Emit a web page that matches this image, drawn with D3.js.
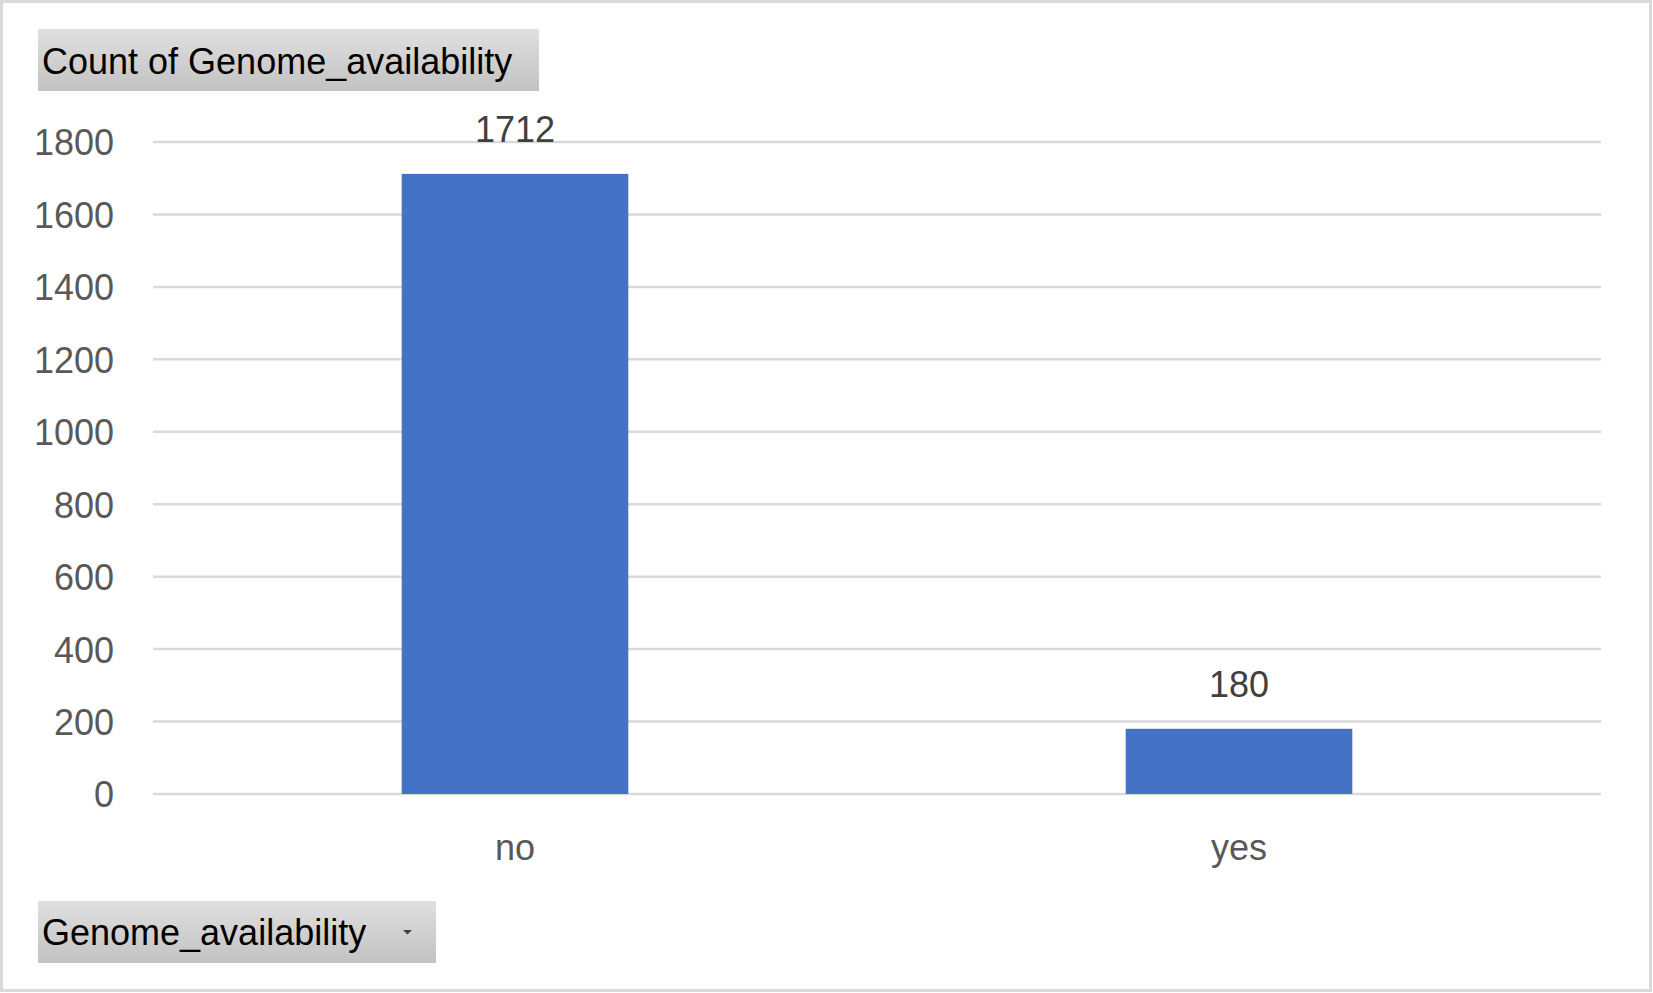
<!DOCTYPE html>
<html>
<head>
<meta charset="utf-8">
<script src="https://cdn.jsdelivr.net/npm/d3@7"></script>
<style>
  html, body { margin: 0; padding: 0; background: #fff; }
  svg { display: block; font-family: "Liberation Sans", Arial, sans-serif; }
</style>
</head>
<body>
<div id="chart"></div>
<script>
const categories = ['no', 'yes'];
const counts = [1712, 180];
const yTicks = [0, 200, 400, 600, 800, 1000, 1200, 1400, 1600, 1800];
const titleText = 'Count of Genome_availability';
const fieldText = 'Genome_availability';

const W = 1653, H = 993;
const plot = { left: 153, right: 1601, top: 142, bottom: 794 };

const svg = d3.select('#chart').append('svg')
  .attr('width', W).attr('height', H);

const defs = svg.append('defs');
const grad = defs.append('linearGradient').attr('id', 'btn').attr('x1', 0).attr('y1', 0).attr('x2', 0).attr('y2', 1);
grad.append('stop').attr('offset', '0%').attr('stop-color', '#e0e0e0');
grad.append('stop').attr('offset', '100%').attr('stop-color', '#c2c2c2');

// outer frame
svg.append('rect').attr('x', 1.5).attr('y', 1.5).attr('width', W - 4).attr('height', H - 4)
  .attr('fill', '#fff').attr('stroke', '#d9d9d9').attr('stroke-width', 3);

const x = d3.scaleBand().domain(categories).range([plot.left, plot.right])
  .paddingInner(0.687).paddingOuter(0.3435);
const y = d3.scaleLinear().domain([0, 1800]).range([plot.bottom, plot.top]);

// gridlines
svg.append('g').selectAll('line').data(yTicks).join('line')
  .attr('x1', plot.left).attr('x2', plot.right)
  .attr('y1', (d) => y(d)).attr('y2', (d) => y(d))
  .attr('stroke', '#d9d9d9').attr('stroke-width', 2.5);

// y axis labels
const yAxis = svg.append('g').attr('transform', `translate(${plot.left},0)`)
  .call(d3.axisLeft(y).tickValues(yTicks).tickSize(0).tickPadding(39).tickFormat(d3.format('d')));
yAxis.select('.domain').remove();
yAxis.selectAll('text').attr('fill', '#595959').attr('font-size', 36)
  .attr('font-family', '"Liberation Sans", Arial, sans-serif').attr('dy', '0.36em');

// bars
svg.append('g').selectAll('rect').data(counts).join('rect')
  .attr('x', (_, i) => x(categories[i])).attr('width', x.bandwidth())
  .attr('y', (d) => y(d)).attr('height', (d) => y(0) - y(d))
  .attr('fill', '#4472c4');

// value labels
svg.append('g').selectAll('text').data(counts).join('text')
  .attr('x', (_, i) => x(categories[i]) + x.bandwidth() / 2)
  .attr('y', (d) => y(d) - 32)
  .attr('text-anchor', 'middle').attr('font-size', 36).attr('fill', '#404040')
  .text((d) => d);

// x axis labels
const xAxis = svg.append('g').attr('transform', `translate(0,${plot.bottom})`)
  .call(d3.axisBottom(x).tickSize(0).tickPadding(40));
xAxis.select('.domain').remove();
xAxis.selectAll('text').attr('fill', '#595959').attr('font-size', 36)
  .attr('font-family', '"Liberation Sans", Arial, sans-serif').attr('dy', '0.71em');

// pivot field buttons
svg.append('rect').attr('x', 38).attr('y', 29).attr('width', 501).attr('height', 62).attr('fill', 'url(#btn)');
svg.append('text').attr('x', 42).attr('y', 74).attr('font-size', 36).attr('fill', '#000').text(titleText);

svg.append('rect').attr('x', 38).attr('y', 901).attr('width', 398).attr('height', 62).attr('fill', 'url(#btn)');
svg.append('text').attr('x', 42).attr('y', 945).attr('font-size', 36).attr('fill', '#000').text(fieldText);
svg.append('path').attr('d', 'M403,930 L412,930 L407.5,934.5 Z').attr('fill', '#404040');
</script>
</body>
</html>
